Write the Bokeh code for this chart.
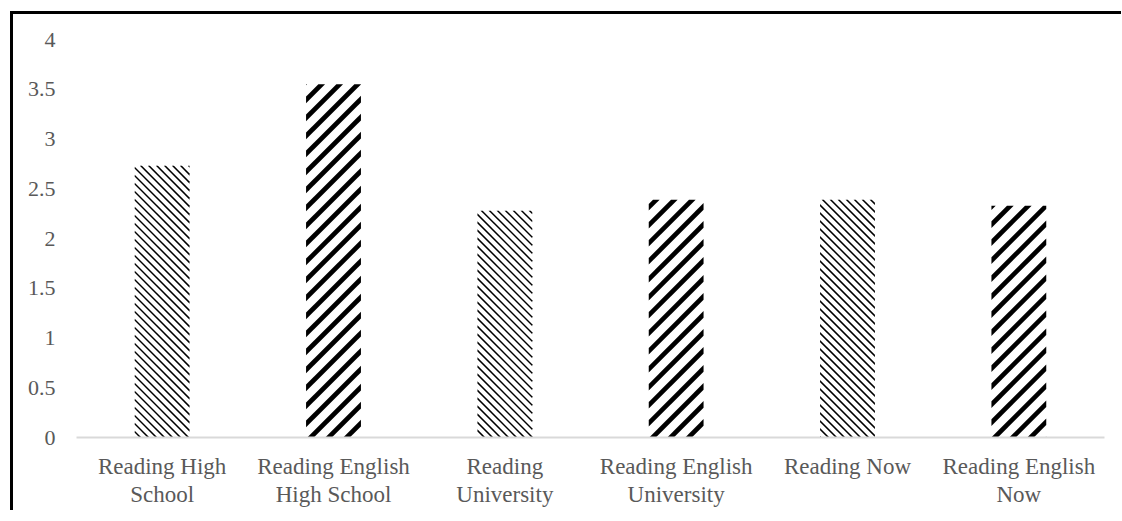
import math
from bokeh.plotting import figure
from bokeh.models import NumeralTickFormatter, FixedTicker
from bokeh.embed import file_html
from bokeh.resources import INLINE

# Mean reading scores by context
categories = [
    "Reading High\nSchool",
    "Reading English\nHigh School",
    "Reading\nUniversity",
    "Reading English\nUniversity",
    "Reading Now",
    "Reading English\nNow",
]
scores = [2.73, 3.55, 2.28, 2.39, 2.39, 2.33]
y_ticks = [0, 0.5, 1, 1.5, 2, 2.5, 3, 3.5, 4]

FONT = "Liberation Serif"
GREY = "#595959"

FRAME_W, FRAME_H = 1028, 398
Y_MAX = 4
BAR_W = 0.32
PX_X = FRAME_W / len(categories)   # pixels per category slot
PX_Y = FRAME_H / Y_MAX             # pixels per score unit


def clip_to_rect(poly, left, right, bottom, top):
    """Sutherland-Hodgman clip of a polygon against an axis-aligned box."""
    edges = [
        (lambda p: p[0] >= left, lambda a, b: (left, a[1] + (b[1] - a[1]) * (left - a[0]) / (b[0] - a[0]))),
        (lambda p: p[0] <= right, lambda a, b: (right, a[1] + (b[1] - a[1]) * (right - a[0]) / (b[0] - a[0]))),
        (lambda p: p[1] >= bottom, lambda a, b: (a[0] + (b[0] - a[0]) * (bottom - a[1]) / (b[1] - a[1]), bottom)),
        (lambda p: p[1] <= top, lambda a, b: (a[0] + (b[0] - a[0]) * (top - a[1]) / (b[1] - a[1]), top)),
    ]
    out = poly
    for inside, cross in edges:
        if not out:
            break
        src, out = out, []
        for i, cur in enumerate(src):
            prev = src[i - 1]
            if inside(cur):
                if not inside(prev):
                    out.append(cross(prev, cur))
                out.append(cur)
            elif inside(prev):
                out.append(cross(prev, cur))
    return out


def stripe_patches(slot, value, spacing, weight, rising):
    """45-degree stripes filling one bar, returned in data coordinates."""
    left = (slot + 0.5 - BAR_W / 2) * PX_X
    right = (slot + 0.5 + BAR_W / 2) * PX_X
    bottom, top = 0.0, value * PX_Y
    h = weight * math.sqrt(2) / 2
    sgn = 1 if rising else -1
    if rising:
        c_lo, c_hi = bottom - right - h, top - left + h
    else:
        c_lo, c_hi = left + bottom - h, right + top + h
    xs, ys = [], []
    k = math.floor(c_lo / spacing)
    while k * spacing <= c_hi:
        c = k * spacing
        x0, x1 = left - 2, right + 2
        band = [(x0, sgn * x0 + c - h), (x1, sgn * x1 + c - h),
                (x1, sgn * x1 + c + h), (x0, sgn * x0 + c + h)]
        poly = clip_to_rect(band, left, right, bottom, top)
        if len(poly) >= 3:
            xs.append([p[0] / PX_X for p in poly])
            ys.append([p[1] / PX_Y for p in poly])
        k += 1
    return xs, ys


p = figure(
    x_range=categories,
    y_range=(0, Y_MAX),
    frame_width=FRAME_W,
    frame_height=FRAME_H,
    output_backend="svg",
    toolbar_location=None,
    min_border_left=63,
    min_border_right=17,
    min_border_top=25,
    min_border_bottom=10,
)
p.margin = (11, 0, 0, 10)
p.styles = {"border-left": "3px solid #000", "border-top": "3px solid #000"}
p.x_range.range_padding = 0

# White bar bodies
p.vbar(x=categories, top=scores, width=BAR_W, fill_color="white", line_color=None)

# Stripe fills: fine falling stripes for reading in general,
# bold rising stripes for reading in English
fine_xs, fine_ys, bold_xs, bold_ys = [], [], [], []
for i, v in enumerate(scores):
    if i % 2 == 0:
        xs, ys = stripe_patches(i, v, spacing=8, weight=1.5, rising=False)
        fine_xs += xs
        fine_ys += ys
    else:
        xs, ys = stripe_patches(i, v, spacing=18, weight=4.7, rising=True)
        bold_xs += xs
        bold_ys += ys

p.patches(xs=fine_xs, ys=fine_ys, fill_color="black", line_color=None)
p.patches(xs=bold_xs, ys=bold_ys, fill_color="black", line_color=None)

p.outline_line_color = None
p.xgrid.grid_line_color = None
p.ygrid.grid_line_color = None
p.background_fill_color = "white"
p.border_fill_color = "white"

p.yaxis.ticker = FixedTicker(ticks=y_ticks)
p.yaxis.formatter = NumeralTickFormatter(format="0.[0]")
p.yaxis.axis_line_color = None
p.yaxis.major_tick_line_color = None
p.yaxis.minor_tick_line_color = None
p.yaxis.major_label_standoff = 15
p.yaxis.major_label_text_font = FONT
p.yaxis.major_label_text_font_size = "22px"
p.yaxis.major_label_text_color = GREY

p.xaxis.axis_line_color = "#d9d9d9"
p.xaxis.axis_line_width = 2
p.xaxis.major_tick_line_color = None
p.xaxis.minor_tick_line_color = None
p.xaxis.major_label_standoff = 10
p.xaxis.major_label_text_font = FONT
p.xaxis.major_label_text_font_size = "23px"
p.xaxis.major_label_text_color = GREY
p.xaxis.major_label_text_line_height = 1.15
p.xaxis.major_label_orientation = "horizontal"

open("out.html", "w").write(file_html(p, INLINE))
